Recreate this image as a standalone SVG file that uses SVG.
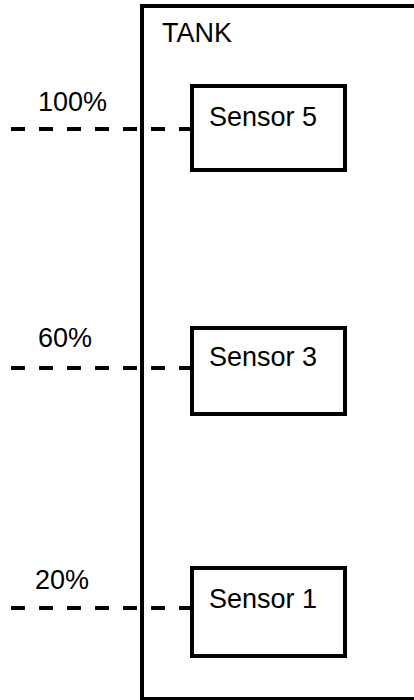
<svg xmlns="http://www.w3.org/2000/svg" width="414" height="700" viewBox="0 0 414 700">
<style>
.ln{fill:none;stroke:#000;stroke-width:4}
.dash{fill:none;stroke:#000;stroke-width:4;stroke-dasharray:14 14}
.t{font-family:"Liberation Sans",Arial,sans-serif;font-size:27px;fill:#000}
</style>
<rect width="414" height="700" fill="#fff"/>
<g id="tank">
<rect class="ln" x="142" y="6" width="300" height="693"/>
<text class="t" x="162" y="42" font-size="26">TANK</text>
</g>
<g id="connectors">
<line class="dash" x1="11" y1="129" x2="195" y2="129"/>
<line class="dash" x1="11" y1="368" x2="195" y2="368"/>
<line class="dash" x1="11" y1="608" x2="195" y2="608"/>
</g>
<g id="level100"><text class="t" x="38" y="111">100%</text></g>
<g id="level60"><text class="t" x="38" y="347">60%</text></g>
<g id="level20"><text class="t" x="35" y="589">20%</text></g>
<g id="sensor5">
<rect class="ln" x="192" y="86" width="153" height="84"/>
<text class="t" x="209" y="126">Sensor 5</text>
</g>
<g id="sensor3">
<rect class="ln" x="192" y="328" width="153" height="86"/>
<text class="t" x="209" y="366">Sensor 3</text>
</g>
<g id="sensor1">
<rect class="ln" x="192" y="568" width="153" height="88"/>
<text class="t" x="209" y="608">Sensor 1</text>
</g>
</svg>
